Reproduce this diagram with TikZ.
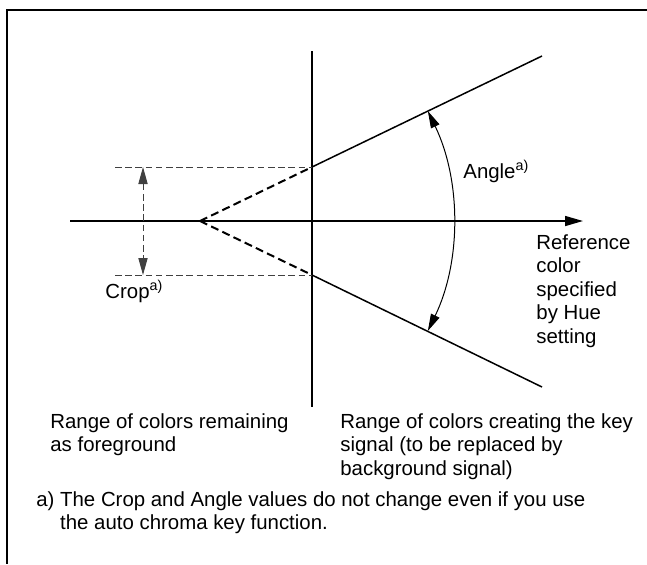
\documentclass[tikz,border=0pt]{standalone}
\usepackage{fontspec}
\setmainfont{Liberation Sans}
\usetikzlibrary{arrows.meta}

\begin{document}
\begin{tikzpicture}[x=0.5pt,y=-0.5pt,
  axis/.style={line width=0.75pt},
  guide/.style={black!75,line width=0.5pt,dash pattern=on 3.3pt off 1.8pt},
  cone/.style={line width=1pt,dash pattern=on 4pt off 2.2pt},
  tip/.style={Triangle[length=8.5pt,width=4.6pt]},
  dim/.style={line width=0.5pt,{Triangle[length=8.5pt,width=4.6pt]}-{Triangle[length=8.5pt,width=4.6pt]}},
  lbl/.style={inner sep=0pt,font=\fontsize{10.2}{11.75}\selectfont,align=left}]
 \useasboundingbox (0,0) rectangle (647,564);
 \draw[line width=1.25pt] (647,10) -- (7,10) -- (7,564);
 \coordinate (apex) at (200,221);
 \coordinate (vtop) at (312,51); \coordinate (vbot) at (312,407);
 \coordinate (hleft) at (70,221); \coordinate (htip) at (583,221);
 \coordinate (uin) at (312,167); \coordinate (uout) at (542,56);
 \coordinate (lin) at (312,275); \coordinate (lout) at (542,387);
 \coordinate (gu) at (115,167); \coordinate (gl) at (115,275);
 \coordinate (cu) at (143,167); \coordinate (cl) at (143,275);
 \draw[axis] (vtop) -- (vbot);
 \draw[axis,-{Triangle[length=9pt,width=5pt]}] (hleft) -- (htip);
 \draw[axis] (uin) -- (uout);
 \draw[axis] (lin) -- (lout);
 \draw[cone] (apex) -- (uin);
 \draw[cone] (apex) -- (lin);
 \draw[guide] (gu) -- (uin);
 \draw[guide] (gl) -- (lin);
 \draw[dim,guide] (cu) -- (cl);
 \draw[dim] (apex) ++(-25.76:126.5pt) arc[start angle=-25.76,end angle=25.76,radius=126.5pt];
 \node[lbl,anchor=base west] (crop) at (105,298) {Crop\textsuperscript{a)}};
 \node[lbl,anchor=base west] (angle) at (463,178) {Angle\textsuperscript{a)}};
 \node[lbl,anchor=north west] (refc) at (536,234) {Reference\\color\\specified\\by Hue\\setting};
 \node[lbl,anchor=north west] (fore) at (50,413) {Range of colors remaining\\as foreground};
 \node[lbl,anchor=north west] (keysig) at (340,413) {Range of colors creating the key\\signal (to be replaced by\\background signal)};
 \node[lbl,anchor=north west] (note) at (36,491) {a) The Crop and Angle values do not change even if you use\\\phantom{a) }the auto chroma key function.};
\end{tikzpicture}
\end{document}
